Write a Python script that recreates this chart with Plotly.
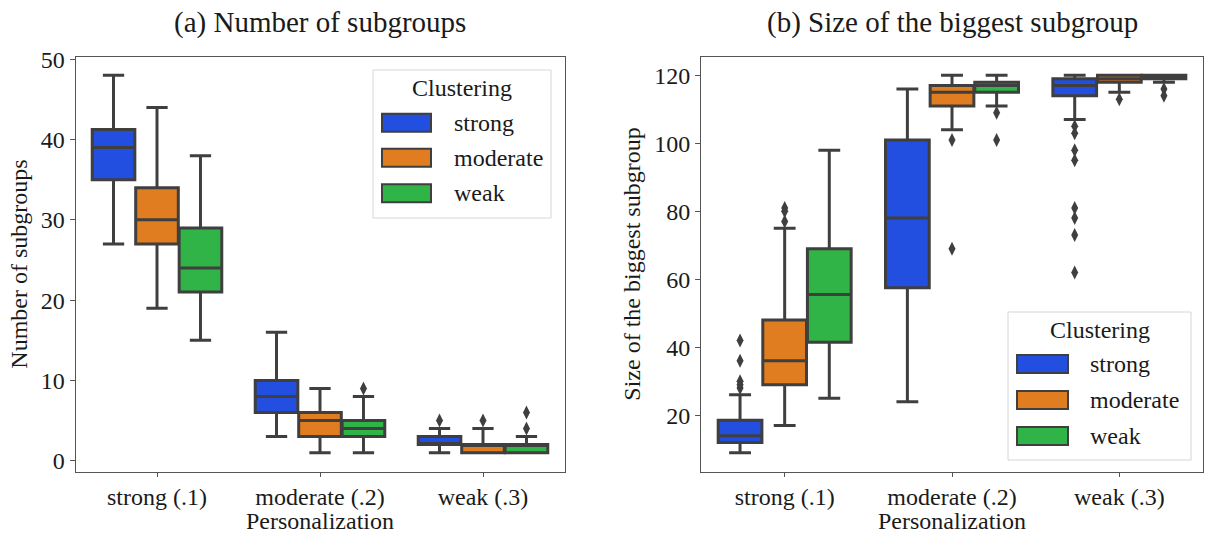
import plotly.graph_objects as go

# ---------------- data ----------------
categories = ["strong (.1)", "moderate (.2)", "weak (.3)"]
hues = ["strong", "moderate", "weak"]
hue_colors = ["#224fdf", "#df7d20", "#30b347"]

# (a) Number of subgroups  -- rows: hue (strong, moderate, weak); cols: personalization category
sub_lo = [[27, 3, 1], [19, 1, 1], [15, 1, 1]]
sub_q1 = [[35, 6, 2], [27, 3, 1], [21, 3, 1]]
sub_med = [[39, 8, 2], [30, 5, 2], [24, 4, 2]]
sub_q3 = [[41.25, 10, 3], [34, 6, 2], [29, 5, 2]]
sub_hi = [[48, 16, 4], [44, 9, 4], [38, 8, 3]]
sub_out = [[[], [], [5]], [[], [], [5]], [[], [9], [4, 6]]]

# (b) Size of the biggest subgroup
size_lo = [[9, 24, 107], [17, 104, 115], [25, 111, 118]]
size_q1 = [[12, 57.5, 114], [29, 111, 118], [41.5, 115, 119]]
size_med = [[14, 78, 117], [36, 115, 119], [55.5, 117, 120]]
size_q3 = [[18.5, 101, 119], [48, 117, 120], [69, 118, 120]]
size_hi = [[26, 116, 120], [75, 120, 120], [98, 120, 120]]
size_out = [[[28, 29, 30, 36, 42], [], [62, 73, 78, 81, 95, 98, 103, 105]],
            [[77, 80, 81], [69, 101], [113]],
            [[], [101, 109], [114, 116]]]

sub_yticks = [0, 10, 20, 30, 40, 50]
size_yticks = [20, 40, 60, 80, 100, 120]

# ---------------- styling ----------------
W, H = 1205, 534
FONT = "'Liberation Serif', 'Times New Roman', Times, 'DejaVu Serif', serif"
EDGE = "#3f3f3f"
TXT = "#1a1a1a"
GROUP_W = 0.8
BOX_W = GROUP_W / 3


def px(x):
    return x / W


def py(y):
    return 1 - y / H


fig = go.Figure()

panels = [
    ("x", "y", sub_lo, sub_q1, sub_med, sub_q3, sub_hi, sub_out),
    ("x2", "y2", size_lo, size_q1, size_med, size_q3, size_hi, size_out),
]

for xa, ya, lo, q1, med, q3, hi, out in panels:
    for h in range(3):
        for c in range(3):
            pos = c + (h - 1) * BOX_W
            fig.add_trace(go.Box(
                x=[pos], q1=[q1[h][c]], median=[med[h][c]], q3=[q3[h][c]],
                lowerfence=[lo[h][c]], upperfence=[hi[h][c]],
                width=BOX_W * 0.98, whiskerwidth=0.5,
                fillcolor=hue_colors[h],
                line=dict(color=EDGE, width=3),
                boxpoints=False, showlegend=False,
                orientation="v",
                xaxis=xa, yaxis=ya,
            ))
            if out[h][c]:
                fig.add_trace(go.Scatter(
                    x=[pos] * len(out[h][c]), y=out[h][c], mode="markers",
                    marker=dict(symbol="diamond-tall", size=10, color=EDGE,
                                line=dict(width=0)),
                    showlegend=False, xaxis=xa, yaxis=ya,
                ))

tickfont = dict(family=FONT, size=24, color=TXT)
titlefont = dict(family=FONT, size=24, color=TXT)
ydom = [py(471.5), py(56.5)]

common_x = dict(range=[-0.5, 2.5], tickvals=[0, 1, 2], ticktext=categories,
                showline=True, mirror=True, linecolor="#555", linewidth=1,
                ticks="outside", ticklen=4, tickcolor="#555", tickfont=tickfont,
                showgrid=False, zeroline=False, automargin=False)
common_y = dict(showline=True, mirror=True, linecolor="#555", linewidth=1,
                ticks="outside", ticklen=5, tickcolor="#555", tickfont=tickfont,
                showgrid=False, zeroline=False, automargin=False)

fig.update_layout(
    width=W, height=H,
    margin=dict(l=0, r=0, t=0, b=0, pad=0, autoexpand=False),
    paper_bgcolor="white", plot_bgcolor="white",
    boxmode="overlay",
    showlegend=False,
    xaxis=dict(common_x, domain=[px(75.5), px(564.5)], anchor="y",
               title=dict(text="Personalization", font=titlefont, standoff=4)),
    yaxis=dict(common_y, domain=ydom, anchor="x", range=[-1.35, 50.35],
               tickvals=sub_yticks,
               title=dict(text="Number of subgroups", font=titlefont, standoff=6)),
    xaxis2=dict(common_x, domain=[px(701), px(1203)], anchor="y2",
                title=dict(text="Personalization", font=titlefont, standoff=4)),
    yaxis2=dict(common_y, domain=ydom, anchor="x2", range=[3.45, 125.55],
                tickvals=size_yticks,
                title=dict(text="Size of the biggest subgroup", font=titlefont, standoff=6)),
)

annotations = [
    dict(text="(a) Number of subgroups", x=px(320), y=py(23), xref="paper", yref="paper",
         showarrow=False, xanchor="center", yanchor="middle",
         font=dict(family=FONT, size=29, color=TXT)),
    dict(text="(b) Size of the biggest subgroup", x=px(952), y=py(23), xref="paper",
         yref="paper", showarrow=False, xanchor="center", yanchor="middle",
         font=dict(family=FONT, size=29, color=TXT)),
]
shapes = []

# custom legends (matplotlib style)
legends = [
    dict(frame=(373, 70, 551, 218), title=(462, 88), patch_x=(382, 431),
         rows=[122.7, 157.7, 193.3], text_x=452),
    dict(frame=(1008, 312, 1191, 460), title=(1100, 330), patch_x=(1017, 1068),
         rows=[364, 400, 436], text_x=1088),
]
for lg in legends:
    x0, y0, x1, y1 = lg["frame"]
    shapes.append(dict(type="rect", xref="paper", yref="paper",
                       x0=px(x0), x1=px(x1), y0=py(y1), y1=py(y0),
                       line=dict(color="#d6d6d6", width=1),
                       fillcolor="rgba(255,255,255,0.8)", layer="above"))
    annotations.append(dict(text="Clustering", x=px(lg["title"][0]), y=py(lg["title"][1]),
                            xref="paper", yref="paper", showarrow=False,
                            xanchor="center", yanchor="middle",
                            font=dict(family=FONT, size=24, color=TXT)))
    for h, yc in enumerate(lg["rows"]):
        shapes.append(dict(type="rect", xref="paper", yref="paper",
                           x0=px(lg["patch_x"][0]), x1=px(lg["patch_x"][1]),
                           y0=py(yc + 9), y1=py(yc - 9),
                           line=dict(color=EDGE, width=2),
                           fillcolor=hue_colors[h], layer="above"))
        annotations.append(dict(text=hues[h], x=px(lg["text_x"]), y=py(yc),
                                xref="paper", yref="paper", showarrow=False,
                                xanchor="left", yanchor="middle",
                                font=dict(family=FONT, size=24, color=TXT)))

fig.update_layout(annotations=annotations, shapes=shapes)

fig.write_html("out.html")
